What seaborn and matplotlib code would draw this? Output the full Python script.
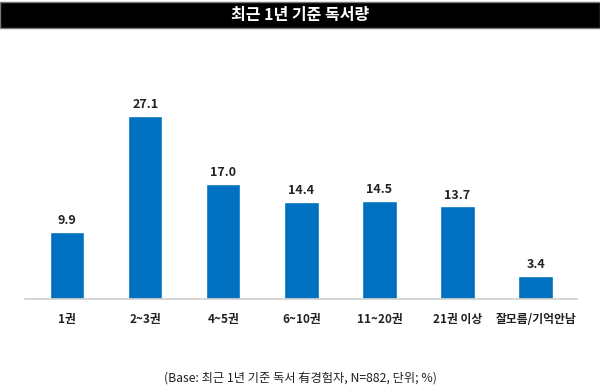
import numpy as np
import pandas as pd
import seaborn as sns
from matplotlib import pyplot as plt
from matplotlib.patches import Rectangle

sns.set_theme(style="white")
plt.rcParams['font.family'] = ['Noto Sans CJK KR', 'DejaVu Sans']

# data
categories = ['1권', '2~3권', '4~5권', '6~10권', '11~20권', '21권 이상', '잘모름/기억안남']
values = [9.9, 27.1, 17.0, 14.4, 14.5, 13.7, 3.4]
title = '최근 1년 기준 독서량'
note = '(Base: 최근 1년 기준 독서 有경험자, N=882, 단위; %)'

df = pd.DataFrame({'구분': categories, '비율': values})

fig = plt.figure(figsize=(6, 3.91), dpi=100)
ax = fig.add_axes([25 / 600, 1 - 299 / 391, 552 / 600, 219 / 391])

sns.barplot(data=df, x='구분', y='비율', color='#0070C0', saturation=1,
            width=0.44, ax=ax)

for i, v in enumerate(values):
    ax.text(i, v + 0.7, f'{v:.1f}', ha='center', va='bottom',
            fontsize=9, fontweight='bold', color='#222222')

ax.set_xlim(-0.54, 6.53)
ax.set_ylim(0, 32.4)
ax.set_xlabel('')
ax.set_ylabel('')
ax.set_yticks([])
ax.tick_params(axis='x', length=0, pad=10, labelsize=8.5)
for lbl in ax.get_xticklabels():
    lbl.set_fontweight('bold')
    lbl.set_color('#222222')
for s in ['top', 'left', 'right']:
    ax.spines[s].set_visible(False)
ax.spines['bottom'].set_color('#d0d0d0')
ax.spines['bottom'].set_linewidth(1.2)

# title bar
fig.patches.append(Rectangle((0, 1 - 28 / 391), 1, 26 / 391, transform=fig.transFigure,
                             facecolor='black', edgecolor='#777777', linewidth=1))
fig.text(0.5, 1 - 15 / 391, title, ha='center', va='center', color='white',
         fontsize=11.5, fontweight='bold')

fig.text(0.5, 1 - 378 / 391, note, ha='center', va='center', fontsize=8.8, color='#222222')

fig.savefig('out.png', dpi=100)
